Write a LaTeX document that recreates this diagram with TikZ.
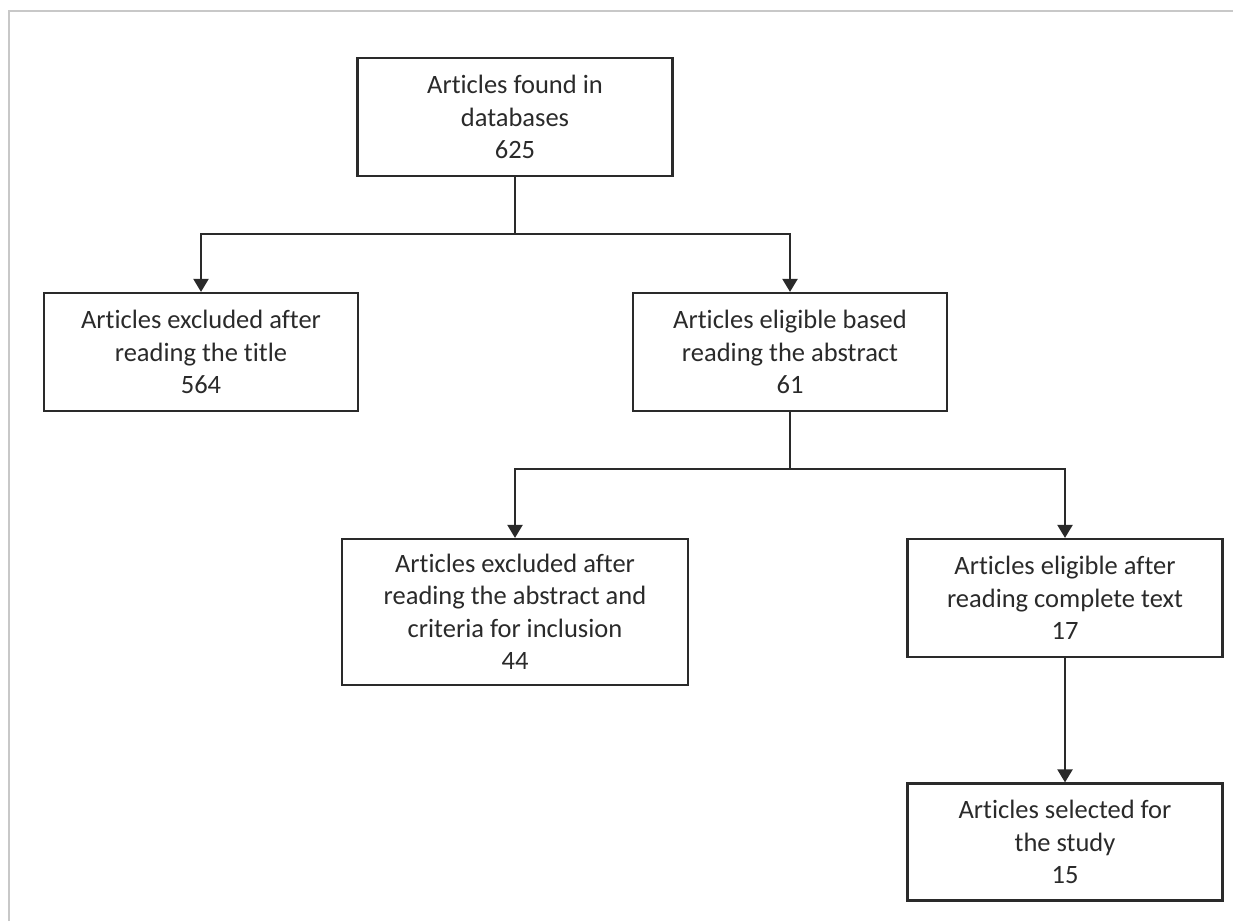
\documentclass[tikz,border=0pt]{standalone}
\usepackage{fontspec}
\setmainfont{Carlito}[Ligatures=NoCommon]
\usetikzlibrary{arrows.meta}
\definecolor{inkgray}{HTML}{2A2A2A}
\definecolor{framegray}{HTML}{C8C8C8}

\begin{document}
\begin{tikzpicture}[x=1pt,y=-1pt,
    box/.style={draw=inkgray, line width=2.2pt, text=inkgray, align=center,
                inner sep=0pt, minimum width=315pt, minimum height=118pt,
                font=\fontsize{26.5}{32.5}\selectfont},
    link/.style={draw=inkgray, line width=2.2pt},
    arr/.style={link, -{Triangle[width=15pt,length=13pt]}}]
    \useasboundingbox (0,0) rectangle (1233,921);
    % frame round the figure
    \draw[framegray, line width=2pt] (9,921) -- (9,11) -- (1233,11);

    \node (found) at (515,117) [box] {Articles found in\\databases\\625};
    \node (exclTitle) at (201,352) [box, minimum width=314pt] {Articles excluded after\\reading the title\\564};
    \node (eligAbs) at (790,352) [box, minimum width=314pt] {Articles eligible based\\reading the abstract\\61};
    \node (exclAbs) at (515,612) [box, minimum width=346pt, minimum height=146pt] {Articles excluded after\\reading the abstract and\\criteria for inclusion\\44};
    \node (eligText) at (1065,598) [box] {Articles eligible after\\reading complete text\\17};
    \node (selected) at (1065,842) [box, minimum height=117pt] {Articles selected for\\the study\\15};

    \coordinate (split1) at (515,234);
    \coordinate (split2) at (790,469);

    \draw[link] (found) -- (split1);
    \draw[arr] (split1) -| (exclTitle);
    \draw[arr] (split1) -| (eligAbs);
    \draw[link] (eligAbs) -- (split2);
    \draw[arr] (split2) -| (exclAbs);
    \draw[arr] (split2) -| (eligText);
    \draw[arr] (eligText) -- (selected);
\end{tikzpicture}
\end{document}
